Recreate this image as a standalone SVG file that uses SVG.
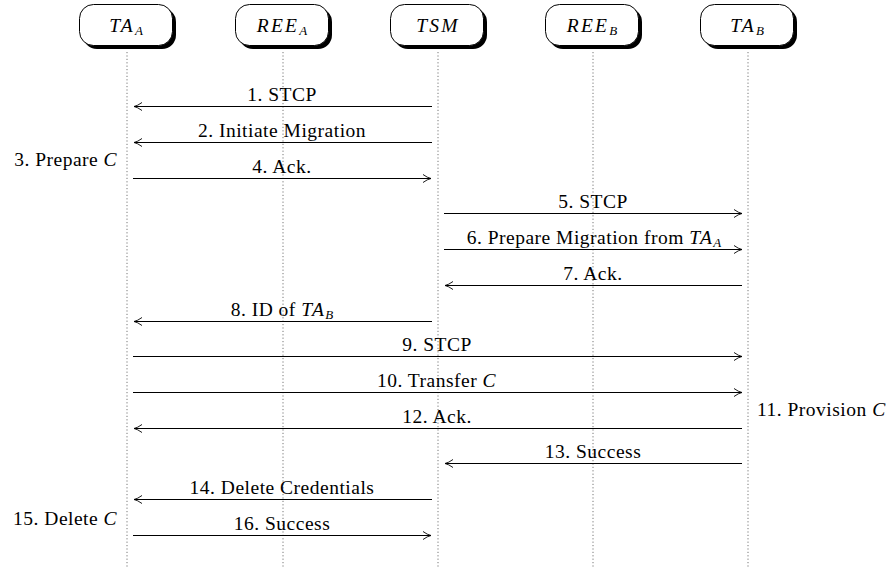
<svg xmlns="http://www.w3.org/2000/svg" width="889" height="573" viewBox="0 0 889 573">
<style>
text{font-family:"Liberation Serif","DejaVu Serif",serif;font-size:19.5px;letter-spacing:0.5px;fill:#000}
.it{font-style:italic;letter-spacing:1.4px}
.sub{font-size:13px;font-style:italic;letter-spacing:0}
.box{fill:#fff;stroke:#000;stroke-width:1}
.shadow{fill:#000}
.life{stroke:#777;stroke-width:1;stroke-dasharray:1.2 2.2;fill:none}
.msg{stroke:#000;stroke-width:1;fill:none}
.nl{font-size:19.5px;font-style:italic;letter-spacing:2.2px}
</style>
<defs>
<marker id="ah" viewBox="-9 -5 10 10" markerWidth="10" markerHeight="10" refX="0" refY="0" orient="auto" markerUnits="userSpaceOnUse">
<path d="M-8,-4 Q-3.5,-0.7 0,0 Q-3.5,0.7 -8,4" fill="none" stroke="#000" stroke-width="0.9"/>
</marker>
</defs>
<g id="lifelines">
<line class="life" x1="127" y1="52" x2="127" y2="568"/>
<line class="life" x1="283" y1="52" x2="283" y2="568"/>
<line class="life" x1="438" y1="52" x2="438" y2="568"/>
<line class="life" x1="593" y1="52" x2="593" y2="568"/>
<line class="life" x1="748" y1="52" x2="748" y2="568"/>
</g>
<g id="node-TAA">
<rect class="shadow" x="83" y="8" width="93" height="41" rx="14"/>
<rect class="box" x="79.5" y="4.5" width="93" height="41" rx="14"/>
<text class="nl" x="126" y="32" text-anchor="middle">TA<tspan class="sub" dy="3">A</tspan></text>
</g>
<g id="node-REEA">
<rect class="shadow" x="239" y="8" width="93" height="41" rx="14"/>
<rect class="box" x="235.5" y="4.5" width="93" height="41" rx="14"/>
<text class="nl" x="282" y="32" text-anchor="middle">REE<tspan class="sub" dy="3">A</tspan></text>
</g>
<g id="node-TSM">
<rect class="shadow" x="394" y="8" width="93" height="41" rx="14"/>
<rect class="box" x="390.5" y="4.5" width="93" height="41" rx="14"/>
<text class="nl" x="438" y="32" text-anchor="middle">TSM</text>
</g>
<g id="node-REEB">
<rect class="shadow" x="549" y="8" width="93" height="41" rx="14"/>
<rect class="box" x="545.5" y="4.5" width="93" height="41" rx="14"/>
<text class="nl" x="592" y="32" text-anchor="middle">REE<tspan class="sub" dy="3">B</tspan></text>
</g>
<g id="node-TAB">
<rect class="shadow" x="704" y="8" width="93" height="41" rx="14"/>
<rect class="box" x="700.5" y="4.5" width="93" height="41" rx="14"/>
<text class="nl" x="747" y="32" text-anchor="middle">TA<tspan class="sub" dy="3">B</tspan></text>
</g>
<g id="connectors">
<line class="msg" x1="432" y1="106.5" x2="134" y2="106.5" marker-end="url(#ah)"/>
<line class="msg" x1="432" y1="142.5" x2="134" y2="142.5" marker-end="url(#ah)"/>
<line class="msg" x1="133" y1="178.5" x2="431" y2="178.5" marker-end="url(#ah)"/>
<line class="msg" x1="444" y1="213.5" x2="742" y2="213.5" marker-end="url(#ah)"/>
<line class="msg" x1="444" y1="249.5" x2="742" y2="249.5" marker-end="url(#ah)"/>
<line class="msg" x1="742" y1="285.5" x2="445" y2="285.5" marker-end="url(#ah)"/>
<line class="msg" x1="432" y1="321.5" x2="134" y2="321.5" marker-end="url(#ah)"/>
<line class="msg" x1="133" y1="356.5" x2="742" y2="356.5" marker-end="url(#ah)"/>
<line class="msg" x1="133" y1="392.5" x2="742" y2="392.5" marker-end="url(#ah)"/>
<line class="msg" x1="742" y1="428.5" x2="134" y2="428.5" marker-end="url(#ah)"/>
<line class="msg" x1="742" y1="463.5" x2="445" y2="463.5" marker-end="url(#ah)"/>
<line class="msg" x1="432" y1="499.5" x2="134" y2="499.5" marker-end="url(#ah)"/>
<line class="msg" x1="133" y1="535.5" x2="431" y2="535.5" marker-end="url(#ah)"/>
</g>
<g id="labels">
<text x="282" y="101" text-anchor="middle">1. STCP</text>
<text x="282" y="137" text-anchor="middle">2. Initiate Migration</text>
<text x="118" y="166" text-anchor="end">3. Prepare <tspan class="it">C</tspan></text>
<text x="282" y="173" text-anchor="middle">4. Ack.</text>
<text x="593" y="208" text-anchor="middle">5. STCP</text>
<text x="594" y="244" text-anchor="middle">6. Prepare Migration from <tspan class="it">TA</tspan><tspan class="sub" dy="3">A</tspan></text>
<text x="593" y="280" text-anchor="middle">7. Ack.</text>
<text x="282" y="316" text-anchor="middle">8. ID of <tspan class="it">TA</tspan><tspan class="sub" dy="3">B</tspan></text>
<text x="437" y="351" text-anchor="middle">9. STCP</text>
<text x="437" y="387" text-anchor="middle">10. Transfer <tspan class="it">C</tspan></text>
<text x="757" y="416" text-anchor="start">11. Provision <tspan class="it">C</tspan></text>
<text x="437" y="423" text-anchor="middle">12. Ack.</text>
<text x="593" y="458" text-anchor="middle">13. Success</text>
<text x="282" y="494" text-anchor="middle">14. Delete Credentials</text>
<text x="118" y="525" text-anchor="end">15. Delete <tspan class="it">C</tspan></text>
<text x="282" y="530" text-anchor="middle">16. Success</text>
</g>
</svg>
